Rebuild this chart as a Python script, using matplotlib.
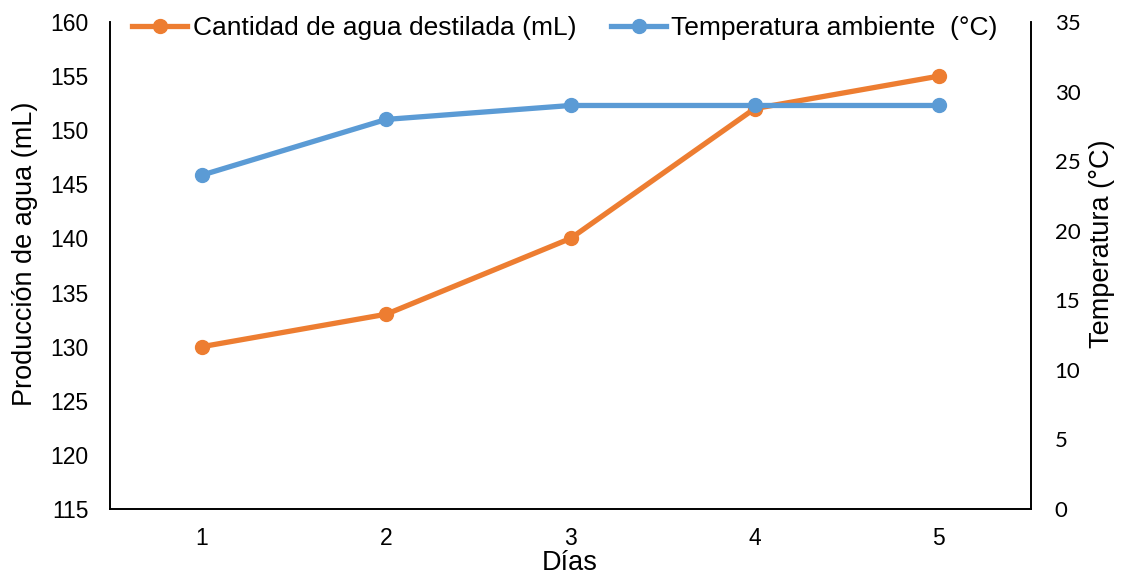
import matplotlib
matplotlib.use("Agg")
import matplotlib.pyplot as plt
from matplotlib.lines import Line2D

plt.rcParams['font.family'] = ['Liberation Sans', 'DejaVu Sans']

dias = [1, 2, 3, 4, 5]
agua_ml = [130, 133, 140, 152, 155]
temperatura_c = [24, 28, 29, 29, 29]

left_ticks = [115, 120, 125, 130, 135, 140, 145, 150, 155, 160]
right_ticks = [0, 5, 10, 15, 20, 25, 30, 35]

orange = '#ED7D31'
blue = '#5B9BD5'

W, H = 1121, 578
fig = plt.figure(figsize=(W / 100, H / 100), dpi=100)
x0, x1, y0, y1 = 110, 1031, 22, 509
ax = fig.add_axes([x0 / W, 1 - y1 / H, (x1 - x0) / W, (y1 - y0) / H])
ax2 = ax.twinx()

ax.plot(dias, agua_ml, color=orange, lw=3.8, marker='o', ms=10,
        solid_capstyle='round')
ax2.plot(dias, temperatura_c, color=blue, lw=3.8, marker='o', ms=10,
         solid_capstyle='round')

ax.set_xlim(0.5, 5.5)
ax.set_ylim(115, 160)
ax2.set_ylim(0, 35)
ax.set_xticks(dias)
ax.set_yticks(left_ticks)
ax2.set_yticks(right_ticks)

for a in (ax, ax2):
    a.spines['top'].set_visible(False)
    for s in a.spines.values():
        s.set_linewidth(1.2)
        s.set_color('black')
    a.tick_params(length=0)
ax.tick_params(axis='both', labelsize=16.5)
ax.tick_params(axis='y', pad=15.5)
ax.tick_params(axis='x', pad=13)
ax2.tick_params(axis='y', pad=17, labelsize=16)
for lbl in ax2.get_yticklabels():
    lbl.set_family(['Lato', 'DejaVu Sans'])

ax.set_xlabel('Días', fontsize=19.5, va='center')
ax.set_ylabel('Producción de agua (mL)', fontsize=19.5, va='center')
ax2.set_ylabel('Temperatura (°C)', fontsize=19.5, va='center')
pw, ph = x1 - x0, y1 - y0
ax.xaxis.set_label_coords((570 - x0) / pw, (y1 - 563) / ph)
ax.yaxis.set_label_coords((25 - x0) / pw, (y1 - 254) / ph)
ax2.yaxis.set_label_coords((1102 - x0) / pw, (y1 - 243.5) / ph)

handles = [
    Line2D([], [], color=orange, lw=3.8, marker='o', ms=10),
    Line2D([], [], color=blue, lw=3.8, marker='o', ms=10),
]
labels = ['Cantidad de agua destilada (mL)', 'Temperatura ambiente  (°C)']
fig.legend(handles, labels, loc='center', bbox_to_anchor=(565 / W, 1 - 28 / H),
           ncol=2, frameon=False, fontsize=19, handlelength=2.08,
           handletextpad=0.2, columnspacing=1.33, borderpad=0, borderaxespad=0)

fig.savefig('out.png', dpi=100)
